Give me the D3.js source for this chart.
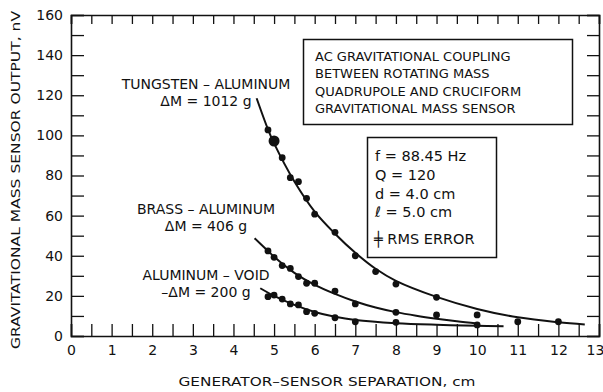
<!DOCTYPE html>
<html><head><meta charset="utf-8">
<script src="https://cdn.jsdelivr.net/npm/d3@7"></script>
<style>
html,body{margin:0;padding:0;background:#fff;}
svg{display:block;}
text{font-family:"DejaVu Sans",sans-serif;fill:#111;}
</style></head>
<body>
<svg id="chart" width="603" height="392"></svg>
<script>
// ---- data ----
const xTicks = d3.range(0, 13.01, 0.5);
const xTickLabels = ["0","1","2","3","4","5","6","7","8","9","10","11","12","13"];
const yTicks = d3.range(0, 160.1, 10);
const yTickLabels = ["0","20","40","60","80","100","120","140","160"];

const tungstenX = [4.85, 5.0, 5.2, 5.4, 5.6, 5.8, 6.0, 6.5, 7.0, 7.5, 8.0, 9.0, 10.0, 11.0, 12.0];
const tungstenY = [102.7, 97.2, 88.9, 78.9, 76.9, 68.6, 60.7, 51.7, 40.0, 32.1, 25.9, 19.3, 10.5, 7.1, 7.1];
const brassX = [4.85, 5.0, 5.2, 5.4, 5.6, 5.8, 6.0, 6.5, 7.0, 8.0, 9.0];
const brassY = [42.4, 39.2, 35.1, 33.7, 29.6, 26.3, 26.3, 22.4, 16.0, 11.8, 10.5];
const voidX = [4.85, 5.0, 5.2, 5.4, 5.6, 5.8, 6.0, 6.5, 7.0, 8.0, 10.0];
const voidY = [19.6, 20.4, 18.4, 16.0, 15.5, 12.1, 11.3, 9.1, 7.1, 6.8, 5.5];

// fitted curves
const tungstenFitX = [4.57, 4.85, 5.0, 5.5, 6.0, 6.5, 7.0, 7.5, 8.0, 9.0, 10.0, 11.0, 12.0, 12.65];
const tungstenFitY = [118.5, 103, 96, 77, 62, 51, 41.5, 33.5, 27.5, 19.5, 13.5, 9.3, 6.8, 5.7];
const brassFitX = [4.52, 4.85, 5.0, 5.5, 6.0, 6.5, 7.0, 7.5, 8.0, 8.5, 9.0, 9.5, 10.0];
const brassFitY = [48.7, 42.4, 39.5, 31.5, 25.5, 21, 17.2, 14.2, 11.9, 10.1, 8.6, 7.3, 6.2];
const voidFitX = [4.66, 5.0, 5.5, 6.0, 6.5, 7.0, 8.0, 9.0, 10.0, 10.65];
const voidFitY = [23.8, 20.0, 15.5, 12.0, 9.6, 8.0, 6.4, 5.6, 5.1, 4.8];

const bigDotIndex = 1; // larger dot on tungsten series

const titleLines = ["AC GRAVITATIONAL COUPLING","BETWEEN ROTATING MASS","QUADRUPOLE AND CRUCIFORM","GRAVITATIONAL MASS SENSOR"];
const paramLines = ["f  = 88.45 Hz","Q = 120","d = 4.0 cm","ℓ = 5.0 cm"];

// ---- drawing ----
const svg = d3.select("#chart");
const x = d3.scaleLinear().domain([0,13]).range([71,599]);
const y = d3.scaleLinear().domain([0,160]).range([336,15]);
const ink = "#111";
const font = "'DejaVu Sans',sans-serif";

// axes
const fmtX = v => Number.isInteger(v) ? xTickLabels[v] : "";
const fmtY = v => (v % 20 === 0) ? yTickLabels[v/20] : "";

const gB = svg.append("g").attr("transform",`translate(0,${y(0)})`)
  .call(d3.axisBottom(x).tickValues(xTicks).tickFormat(fmtX).tickSize(-12).tickPadding(9));
const gT = svg.append("g").attr("transform",`translate(0,${y(160)})`)
  .call(d3.axisTop(x).tickValues(xTicks).tickFormat("").tickSize(-9));
const gL = svg.append("g").attr("transform",`translate(${x(0)},0)`)
  .call(d3.axisLeft(y).tickValues(yTicks).tickFormat(fmtY).tickSize(-13).tickPadding(8));
const gR = svg.append("g").attr("transform",`translate(${x(13)},0)`)
  .call(d3.axisRight(y).tickValues(yTicks).tickFormat("").tickSize(-12));
[gB,gT,gL,gR].forEach(g=>{
  g.selectAll(".domain").attr("stroke",ink).attr("stroke-width",1.6);
  g.selectAll(".tick line").attr("stroke",ink).attr("stroke-width",1.3);
  g.selectAll("text").attr("font-family",font).attr("font-size",14).attr("fill",ink);
});
// keep the last x label inside the picture
gB.selectAll(".tick text").filter(d=>d===13).attr("dx",-4);

// axis titles
svg.append("text").attr("x",327).attr("y",386).attr("text-anchor","middle")
  .attr("font-size",12.5).attr("textLength",297).attr("lengthAdjust","spacingAndGlyphs")
  .text("GENERATOR–SENSOR SEPARATION, cm");
svg.append("text").attr("transform","translate(20,180) rotate(-90)").attr("text-anchor","middle")
  .attr("font-size",12.5).attr("textLength",338).attr("lengthAdjust","spacingAndGlyphs")
  .text("GRAVITATIONAL MASS SENSOR OUTPUT, nV");

// curves
const line = d3.line().x(d=>x(d[0])).y(d=>y(d[1])).curve(d3.curveCatmullRom);
const fits = [[tungstenFitX,tungstenFitY],[brassFitX,brassFitY],[voidFitX,voidFitY]];
fits.forEach(([fx,fy])=>{
  svg.append("path").datum(fx.map((v,i)=>[v,fy[i]])).attr("d",line)
    .attr("fill","none").attr("stroke",ink).attr("stroke-width",2);
});

// points
const series = [[tungstenX,tungstenY,true],[brassX,brassY,false],[voidX,voidY,false]];
series.forEach(([sx,sy,hasBig])=>{
  svg.append("g").selectAll("circle").data(sx.map((v,i)=>[v,sy[i],i])).join("circle")
    .attr("cx",d=>x(d[0])).attr("cy",d=>y(d[1]))
    .attr("r",d=> (hasBig && d[2]===bigDotIndex) ? 5.5 : 3.4)
    .attr("fill",ink);
});

// series labels
function label(lines, cx, cy){
  lines.forEach((t,i)=>{
    svg.append("text").attr("x",cx).attr("y",cy+i*16.5).attr("text-anchor","middle")
      .attr("font-size",14).attr("dominant-baseline","middle").text(t);
  });
}
label(["TUNGSTEN – ALUMINUM","ΔM = 1012 g"],206,85);
label(["BRASS – ALUMINUM","ΔM = 406 g"],206,210);
label(["ALUMINUM – VOID","–ΔM = 200 g"],206,276);

// title box
svg.append("rect").attr("x",303.5).attr("y",39.5).attr("width",269).attr("height",85)
  .attr("fill","#fff").attr("stroke",ink).attr("stroke-width",1.5);
titleLines.forEach((t,i)=>{
  svg.append("text").attr("x",315).attr("y",57.5+i*17.3).attr("dominant-baseline","middle")
    .attr("font-size",13).text(t);
});

// parameter box
svg.append("rect").attr("x",367.5).attr("y",137.5).attr("width",129).attr("height",120)
  .attr("fill","#fff").attr("stroke",ink).attr("stroke-width",1.5);
paramLines.forEach((t,i)=>{
  svg.append("text").attr("x",375).attr("y",157+i*18.8).attr("dominant-baseline","middle")
    .attr("font-size",14.5).text(t);
});
svg.append("text").attr("x",374).attr("y",240).attr("dominant-baseline","middle")
  .attr("font-size",14.5).text("╪ RMS ERROR");
</script>
</body></html>
